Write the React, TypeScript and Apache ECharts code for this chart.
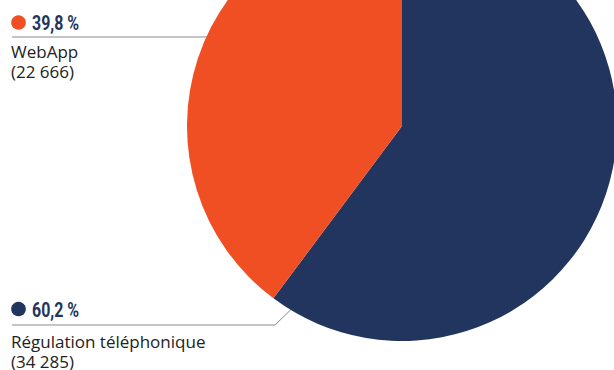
import React, { useEffect, useRef } from "react";
import * as echarts from "echarts";

const categories = ["Régulation téléphonique", "WebApp"];
const values = [34285, 22666];
const colors = ["#22355E", "#F04E23"];

const fmtPct = (v: number, total: number) =>
  (Math.round((v / total) * 1000) / 10).toFixed(1).replace(".", ",") + " %";
const fmtNum = (v: number) => String(v).replace(/\B(?=(\d{3})+(?!\d))/g, " ");

export default function App() {
  const ref = useRef<HTMLDivElement>(null);
  useEffect(() => {
    document.body.style.margin = "0";
    const chart = echarts.init(ref.current!, undefined, { renderer: "svg" });
    const total = values.reduce((a, b) => a + b, 0);
    // label placement (layout only)
    const layouts = [
      { headY: 309, x: 11, y: 331, line: [[306, 295], [275, 325], [12, 325]] },
      { headY: 22.5, x: 11, y: 41, line: [[255, 37], [134, 37], [12, 37]] },
    ];
    const textStyle = { fontFamily: "'Open Sans', sans-serif", fontSize: 17, color: "#222222", lineHeight: 20 };
    const heads: any[] = [];
    categories.forEach((c, i) => {
      const l = layouts[i];
      heads.push({
        type: "circle",
        silent: true,
        shape: { cx: 18.5, cy: l.headY, r: 7.3 },
        style: { fill: colors[i] },
      });
      heads.push({
        type: "text",
        silent: true,
        x: 32,
        y: l.headY + 1,
        scaleX: 0.76,
        style: {
          text: fmtPct(values[i], total),
          font: "bold 21px Roboto, sans-serif",
          fill: "#22355E",
          textAlign: "left",
          textVerticalAlign: "middle",
        },
      });
    });
    chart.setOption({
      animation: false,
      graphic: heads,
      series: [
        {
          type: "pie",
          center: [402, 126],
          radius: 215,
          startAngle: 90,
          clockwise: true,
          silent: true,
          avoidLabelOverlap: false,
          itemStyle: { borderWidth: 0 },
          labelLine: { show: true, lineStyle: { color: "#8a8a8a", width: 1 } },
          data: categories.map((c, i) => ({
            name: c,
            value: values[i],
            itemStyle: { color: colors[i] },
            label: {
              show: true,
              position: "outside",
              formatter: `{name|${c}}\n{val|(${fmtNum(values[i])})}`,
              rich: { name: textStyle, val: textStyle },
            },
          })),
          labelLayout: (p: any) => {
            const l = layouts[p.dataIndex];
            return { x: l.x, y: l.y, align: "left", verticalAlign: "top", labelLinePoints: l.line };
          },
        },
      ],
    });
    return () => chart.dispose();
  }, []);
  return <div ref={ref} style={{ width: 614, height: 370 }} />;
}
